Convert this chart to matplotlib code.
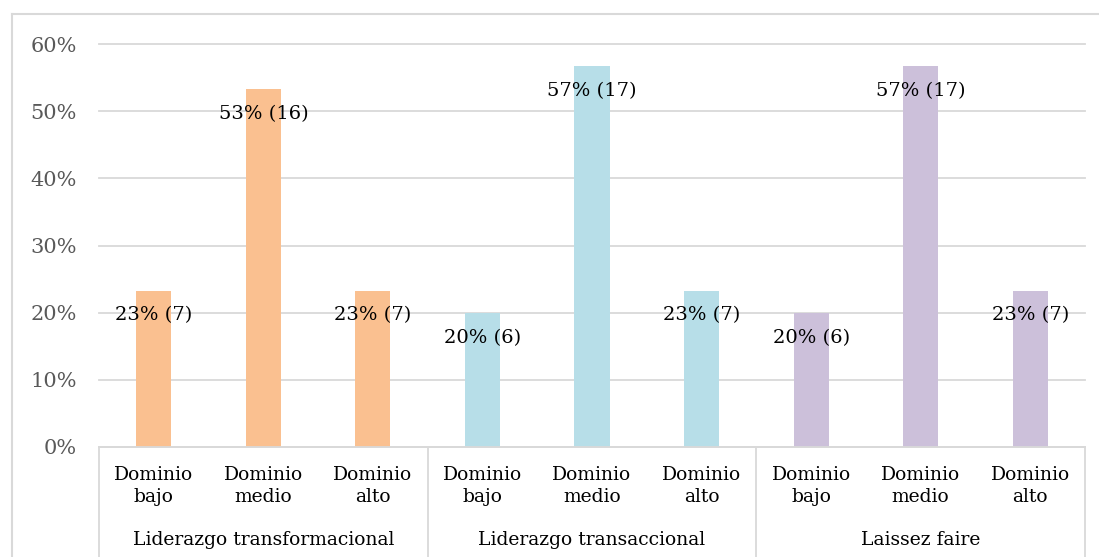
import matplotlib
matplotlib.use("Agg")
import matplotlib.pyplot as plt
from matplotlib.lines import Line2D

groups = ["Liderazgo transformacional", "Liderazgo transaccional", "Laissez faire"]
levels = ["Dominio\nbajo", "Dominio\nmedio", "Dominio\nalto"]
values = [23.3, 53.3, 23.3, 20.0, 56.7, 23.3, 20.0, 56.7, 23.3]
counts = [7, 16, 7, 6, 17, 7, 6, 17, 7]
pct_labels = ["23%", "53%", "23%", "20%", "57%", "23%", "20%", "57%", "23%"]
group_colors = ["#FAC090", "#B7DEE8", "#CCC0DA"]
yticks = [0, 10, 20, 30, 40, 50, 60]

W, H = 1099, 557
plt.rcParams['font.family'] = ['DejaVu Serif']
fig = plt.figure(figsize=(W / 100, H / 100), dpi=100)

left, right, top, bottom = 99, 1085, 44, 447
ax = fig.add_axes([left / W, (H - bottom) / H, (right - left) / W, (bottom - top) / H])

n = len(values)
xs = list(range(n))
colors = [group_colors[i // 3] for i in range(n)]
ax.bar(xs, values, width=0.32, color=colors, zorder=3)

ax.set_xlim(-0.5, n - 0.5)
ax.set_ylim(0, 60)
ax.set_yticks(yticks)
ax.set_yticklabels([f"{t}%" for t in yticks], fontsize=15, color="#595959")
ax.tick_params(axis='y', length=0, pad=16)
ax.set_xticks([])
ax.grid(axis='y', color="#D9D9D9", linewidth=1.3, zorder=0)
for gl in ax.get_ygridlines():
    gl.set_clip_on(False)
for s in ['top', 'right', 'left']:
    ax.spines[s].set_visible(False)
ax.spines['bottom'].set_color("#D9D9D9")
ax.spines['bottom'].set_linewidth(1.3)
ax.spines['bottom'].set_zorder(4)

# data labels (inside end)
for x, v, c, p in zip(xs, values, counts, pct_labels):
    ax.annotate(f"{p} ({c})", xy=(x, v), xytext=(0, -25), textcoords='offset pixels',
                ha='center', va='center', fontsize=14, color='black', zorder=5)

# category labels
for i in range(n):
    ax.annotate(levels[i % 3], xy=(i, 0), xycoords=('data', 'axes fraction'),
                xytext=(0, -39), textcoords='offset pixels',
                ha='center', va='center', fontsize=13.5, linespacing=1.35, color='black')
for g, name in enumerate(groups):
    ax.annotate(name, xy=(g * 3 + 1, 0), xycoords=('data', 'axes fraction'),
                xytext=(0, -93), textcoords='offset pixels',
                ha='center', va='center', fontsize=13.5, color='black')

# separators
for sx in [-0.5, 2.5, 5.5, 8.5]:
    ax.plot([sx, sx], [0, -0.4], transform=ax.get_xaxis_transform(), clip_on=False,
            color="#D9D9D9", linewidth=1.3, zorder=4)

# outer chart border (left and top visible)
fig.add_artist(Line2D([12 / W, 12 / W], [0, 1 - 14 / H], color="#D9D9D9", linewidth=1.5))
fig.add_artist(Line2D([12 / W, 1.01], [1 - 14 / H, 1 - 14 / H], color="#D9D9D9", linewidth=1.5))

fig.savefig("out.png", dpi=100)
